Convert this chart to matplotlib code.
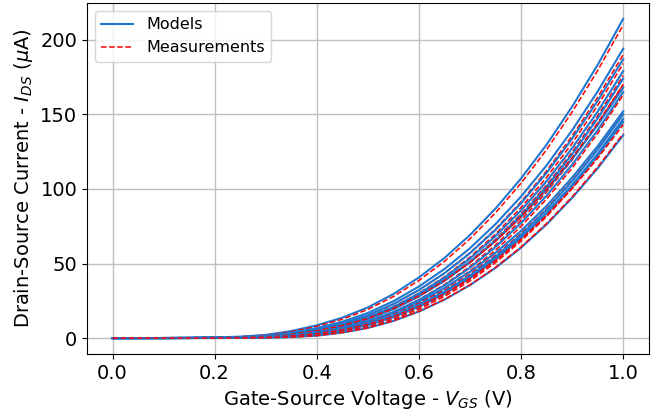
import matplotlib
matplotlib.use('Agg')
import matplotlib.pyplot as plt

vgs = [0.0, 0.05, 0.1, 0.15, 0.2, 0.25, 0.3, 0.35, 0.4, 0.45, 0.5,
       0.55, 0.6, 0.65, 0.7, 0.75, 0.8, 0.85, 0.9, 0.95, 1.0]

# model curves, I_DS in uA, one list per device
models = [
    [0, 0.02, 0.06, 0.17, 0.43, 0.96, 2.14, 4.71, 8.56, 13.70, 20.54,
     29.53, 40.66, 53.71, 69.12, 86.88, 107.0, 129.68, 155.15, 183.18, 214.0],
    [0, 0.02, 0.05, 0.13, 0.32, 0.73, 1.63, 3.61, 6.67, 10.98, 16.84,
     24.70, 34.57, 46.31, 60.26, 76.44, 94.90, 115.80, 139.33, 165.33, 194.0],
    [0, 0.01, 0.04, 0.11, 0.28, 0.63, 1.42, 3.16, 5.91, 9.89, 15.37,
     22.80, 32.22, 43.49, 56.92, 72.56, 90.47, 110.77, 133.67, 159.01, 187.0],
    [0, 0.01, 0.04, 0.09, 0.24, 0.54, 1.22, 2.72, 5.16, 8.81, 13.89,
     20.87, 29.79, 40.53, 53.38, 68.38, 85.63, 105.22, 127.34, 151.86, 179.0],
    [0, 0.01, 0.03, 0.08, 0.20, 0.46, 1.04, 2.35, 4.52, 7.92, 12.70,
     19.36, 27.93, 38.32, 50.81, 65.42, 82.30, 101.49, 123.19, 147.29, 174.0],
    [0, 0.01, 0.04, 0.10, 0.25, 0.57, 1.28, 2.84, 5.31, 8.89, 13.81,
     20.49, 28.95, 39.07, 51.14, 65.18, 81.28, 99.51, 120.09, 142.85, 168.0],
    [0, 0.01, 0.02, 0.06, 0.16, 0.38, 0.86, 1.95, 3.83, 6.90, 11.29,
     17.47, 25.51, 35.33, 47.16, 61.05, 77.15, 95.49, 116.26, 139.36, 165.0],
    [0, 0.01, 0.03, 0.07, 0.17, 0.40, 0.91, 2.05, 3.95, 6.92, 11.10,
     16.91, 24.40, 33.48, 44.38, 57.15, 71.90, 88.65, 107.62, 128.67, 152.0],
    [0, 0.01, 0.02, 0.05, 0.12, 0.29, 0.66, 1.52, 3.06, 5.72, 9.57,
     15.08, 22.31, 31.19, 41.94, 54.60, 69.33, 86.12, 105.18, 126.41, 150.0],
    [0, 0.01, 0.01, 0.04, 0.09, 0.23, 0.53, 1.23, 2.59, 5.06, 8.70,
     13.99, 20.99, 29.66, 40.19, 52.63, 67.15, 83.73, 102.58, 123.60, 147.0],
    [0, 0.01, 0.02, 0.06, 0.14, 0.33, 0.75, 1.71, 3.36, 6.06, 9.92,
     15.36, 22.42, 31.04, 41.44, 53.65, 67.80, 83.91, 102.17, 122.47, 145.0],
    [0, 0.00, 0.01, 0.01, 0.04, 0.11, 0.27, 0.68, 1.63, 3.67, 6.80,
     11.49, 17.82, 25.77, 35.50, 47.06, 60.66, 76.23, 93.98, 113.83, 136.0],
]

# measured curves, I_DS in uA
measurements = [
    [0, 0.02, 0.06, 0.15, 0.38, 0.87, 1.93, 4.26, 7.81, 12.66, 19.19,
     27.86, 38.66, 51.42, 66.53, 84.00, 103.87, 126.30, 151.54, 179.36, 210.0],
    [0, 0.01, 0.04, 0.11, 0.27, 0.61, 1.37, 3.05, 5.74, 9.70, 15.18,
     22.67, 32.18, 43.61, 57.25, 73.15, 91.41, 112.12, 135.49, 161.39, 190.0],
    [0, 0.01, 0.03, 0.09, 0.23, 0.52, 1.18, 2.64, 5.04, 8.71, 13.86,
     20.96, 30.07, 41.09, 54.30, 69.74, 87.53, 107.73, 130.58, 155.94, 184.0],
    [0, 0.01, 0.03, 0.08, 0.20, 0.47, 1.06, 2.38, 4.58, 8.01, 12.85,
     19.58, 28.25, 38.76, 51.39, 66.18, 83.25, 102.65, 124.61, 148.98, 176.0],
    [0, 0.01, 0.02, 0.06, 0.15, 0.36, 0.82, 1.86, 3.71, 6.79, 11.24,
     17.55, 25.78, 35.87, 48.06, 62.39, 79.03, 97.99, 119.49, 143.43, 170.0],
    [0, 0.01, 0.03, 0.09, 0.22, 0.51, 1.16, 2.58, 4.90, 8.36, 13.19,
     19.82, 28.29, 38.49, 50.69, 64.94, 81.33, 99.93, 120.94, 144.23, 170.0],
    [0, 0.01, 0.02, 0.04, 0.12, 0.28, 0.65, 1.51, 3.10, 5.91, 10.02,
     15.96, 23.76, 33.40, 45.07, 58.84, 74.90, 93.22, 114.02, 137.21, 163.0],
    [0, 0.01, 0.02, 0.06, 0.15, 0.34, 0.78, 1.77, 3.48, 6.27, 10.26,
     15.89, 23.19, 32.12, 42.87, 55.50, 70.14, 86.81, 105.69, 126.69, 150.0],
    [0, 0.00, 0.01, 0.03, 0.08, 0.20, 0.47, 1.10, 2.37, 4.75, 8.31,
     13.51, 20.42, 29.01, 39.46, 51.83, 66.30, 82.83, 101.63, 122.62, 146.0],
    [0, 0.00, 0.01, 0.02, 0.06, 0.14, 0.35, 0.85, 1.94, 4.18, 7.58,
     12.64, 19.42, 27.92, 38.29, 50.61, 65.06, 81.46, 100.44, 121.50, 145.0],
    [0, 0.01, 0.02, 0.04, 0.12, 0.27, 0.63, 1.44, 2.92, 5.45, 9.12,
     14.38, 21.26, 29.74, 39.98, 52.05, 66.09, 82.10, 100.27, 120.51, 143.0],
    [0, 0.00, 0.01, 0.01, 0.04, 0.11, 0.27, 0.69, 1.64, 3.70, 6.85,
     11.58, 17.95, 25.96, 35.76, 47.40, 61.10, 76.79, 94.67, 114.67, 137.0],
]

fig = plt.figure(figsize=(6.64, 4.18), dpi=100)
ax = fig.add_axes([0.131, 0.153, 0.846, 0.840])

for i, (m, d) in enumerate(zip(models, measurements)):
    ax.plot(vgs, m, color='#1f77d0', linewidth=1.5,
            label='Models' if i == 0 else None)
    ax.plot(vgs, d, color='red', linestyle='--', linewidth=1.1,
            label='Measurements' if i == 0 else None)

ax.set_xlabel(r'Gate-Source Voltage - $V_{GS}$ (V)', fontsize=14)
ax.set_ylabel(r'Drain-Source Current - $I_{DS}$ ($\mu$A)', fontsize=14)
ax.tick_params(labelsize=14)
ax.grid(True, color='#c0c0c0', linewidth=1.0)
ax.set_axisbelow(True)
ax.legend(loc='upper left', fontsize=11.5)

plt.savefig('out.png', dpi=100)
